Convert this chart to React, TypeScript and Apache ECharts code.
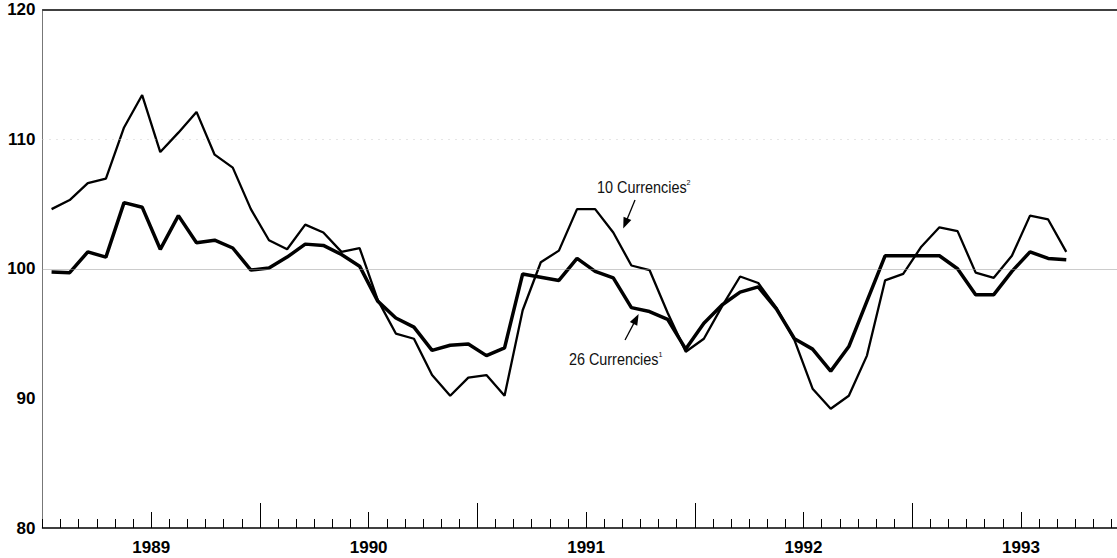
import React, { useEffect, useRef } from "react";
import * as echarts from "echarts";

// Monthly index values, Jan 1989 – Sep 1993
const currencies10 = [
  104.6, 105.3, 106.6, 106.95, 110.9, 113.4, 109.0, 110.5, 112.1, 108.8,
  107.8, 104.6, 102.2, 101.5, 103.4, 102.8, 101.3, 101.6, 97.6, 95.0,
  94.6, 91.8, 90.2, 91.6, 91.8, 90.2, 96.8, 100.5, 101.4, 104.6,
  104.6, 102.8, 100.25, 99.9, 96.6, 93.6, 94.6, 97.1, 99.4, 98.9,
  97.0, 94.5, 90.75, 89.2, 90.2, 93.3, 99.1, 99.6, 101.7, 103.2,
  102.9, 99.7, 99.3, 101.0, 104.1, 103.8, 101.3,
];
const currencies26 = [
  99.75, 99.7, 101.3, 100.9, 105.1, 104.75, 101.5, 104.1, 102.0, 102.2,
  101.6, 99.9, 100.05, 100.9, 101.9, 101.8, 101.1, 100.2, 97.5, 96.2,
  95.5, 93.7, 94.1, 94.2, 93.3, 93.9, 99.6, 99.35, 99.1, 100.8,
  99.8, 99.3, 97.0, 96.7, 96.1, 93.8, 95.8, 97.2, 98.2, 98.6,
  96.9, 94.6, 93.8, 92.1, 94.0, 97.5, 101.0, 101.0, 101.0, 101.0,
  100.0, 98.0, 98.0, 99.8, 101.3, 100.8, 100.7,
];
const yearLabels = ["1989", "1990", "1991", "1992", "1993"];
const yMin = 80;
const yMax = 120;
const yStep = 10;
const axisMonths = 59.3;
const monthTicks = Array.from({ length: 60 }, (_, i) => i);
const midYearTicks = [6, 18, 30, 42, 54];
const yearTicks = [12, 24, 36, 48];

// Annotation anchors in data units (month index, index value)
const annotations = [
  { name: "10 Currencies", sup: "2", text: [30.6, 106.3], from: [32.7, 105.3], to: [32.05, 103.1] },
  { name: "26 Currencies", sup: "1", text: [29.05, 93.0], from: [32.15, 94.5], to: [32.9, 96.5] },
];

export default function App() {
  const ref = useRef<HTMLDivElement>(null);
  useEffect(() => {
    const chart = echarts.init(ref.current!, null, { renderer: "svg" });
    const toPts = (arr: number[]) => arr.map((v, i) => [i + 0.5, v]);
    const xBase: any = {
      type: "value",
      min: 0,
      max: axisMonths,
      position: "bottom",
      gridIndex: 0,
      splitLine: { show: false },
    };
    chart.setOption({
      animation: false,
      backgroundColor: "#fff",
      grid: { left: 42.5, right: 0, top: 9.5, bottom: 30, containLabel: false },
      xAxis: [
        {
          ...xBase,
          axisLine: { show: true, onZero: false, lineStyle: { color: "#000", width: 1.5 } },
          axisTick: {
            show: true,
            inside: true,
            length: 9,
            customValues: monthTicks,
            lineStyle: { color: "#000", width: 1 },
          },
          axisLabel: { show: false },
        },
        {
          ...xBase,
          axisLine: { show: false },
          axisTick: {
            show: true,
            inside: true,
            length: 16,
            customValues: midYearTicks,
            lineStyle: { color: "#000", width: 1 },
          },
          axisLabel: {
            show: true,
            customValues: midYearTicks,
            margin: 11,
            fontSize: 17,
            fontWeight: "bold",
            fontFamily: "Liberation Sans",
            color: "#000",
            formatter: (v: number) => yearLabels[Math.round((v - 6) / 12)] ?? "",
          },
        },
        {
          ...xBase,
          axisLine: { show: false },
          axisTick: {
            show: true,
            inside: true,
            length: 25,
            customValues: yearTicks,
            lineStyle: { color: "#000", width: 1 },
          },
          axisLabel: { show: false },
        },
      ],
      yAxis: {
        type: "value",
        min: yMin,
        max: yMax,
        interval: yStep,
        axisLine: { show: true, onZero: false, lineStyle: { color: "#777", width: 1 } },
        axisTick: { show: false },
        splitLine: { show: false },
        axisLabel: {
          margin: 7,
          fontSize: 17,
          fontWeight: "bold",
          fontFamily: "Liberation Sans",
          color: "#000",
        },
      },
      series: [
        {
          name: "10 Currencies",
          type: "line",
          xAxisIndex: 0,
          data: toPts(currencies10),
          showSymbol: false,
          symbol: "none",
          lineStyle: { color: "#000", width: 2.3 },
          z: 3,
          markLine: {
            silent: true,
            symbol: "none",
            label: { show: false },
            data: [
              { yAxis: 100, lineStyle: { color: "#999", type: "dotted", width: 1 } },
              { yAxis: 110, lineStyle: { color: "#ccc", type: [1, 6], width: 1 } },
              { yAxis: 120, lineStyle: { color: "#000", type: "solid", width: 1.5 } },
            ],
          },
        },
        {
          name: "26 Currencies",
          type: "line",
          xAxisIndex: 0,
          data: toPts(currencies26),
          showSymbol: false,
          symbol: "none",
          lineStyle: { color: "#000", width: 3.5 },
          z: 4,
        },
      ],
    });

    const px = (p: number[]) => chart.convertToPixel({ xAxisIndex: 0, yAxisIndex: 0 }, p) as number[];
    const graphics: any[] = [];
    annotations.forEach((a) => {
      const t = px(a.text);
      graphics.push({
        type: "text",
        x: t[0],
        y: t[1],
        scaleX: 0.9,
        silent: true,
        style: {
          text: `{a|${a.name}}{s|${a.sup}}`,
          align: "left",
          verticalAlign: "middle",
          fill: "#111",
          rich: {
            a: { fontSize: 16, fontFamily: "Liberation Sans", fill: "#111", lineHeight: 18 },
            s: { fontSize: 8, fontFamily: "Liberation Sans", fill: "#111", verticalAlign: "top", lineHeight: 18 },
          },
        },
      });
      const f = px(a.from);
      const e = px(a.to);
      const dx = e[0] - f[0];
      const dy = e[1] - f[1];
      const len = Math.sqrt(dx * dx + dy * dy);
      const ux = dx / len;
      const uy = dy / len;
      const hl = 11;
      const hw = 4.2;
      const bx = e[0] - ux * hl;
      const by = e[1] - uy * hl;
      graphics.push({
        type: "line",
        silent: true,
        shape: { x1: f[0], y1: f[1], x2: bx + ux * 2, y2: by + uy * 2 },
        style: { stroke: "#000", lineWidth: 1.3 },
      });
      graphics.push({
        type: "polygon",
        silent: true,
        shape: {
          points: [
            [e[0], e[1]],
            [bx - uy * hw, by + ux * hw],
            [bx + uy * hw, by - ux * hw],
          ],
        },
        style: { fill: "#000" },
      });
    });
    chart.setOption({ graphic: graphics });

    return () => chart.dispose();
  }, []);
  return (
    <div
      ref={ref}
      style={{ position: "fixed", left: 0, top: 0, width: 1117, height: 558, background: "#fff" }}
    />
  );
}
